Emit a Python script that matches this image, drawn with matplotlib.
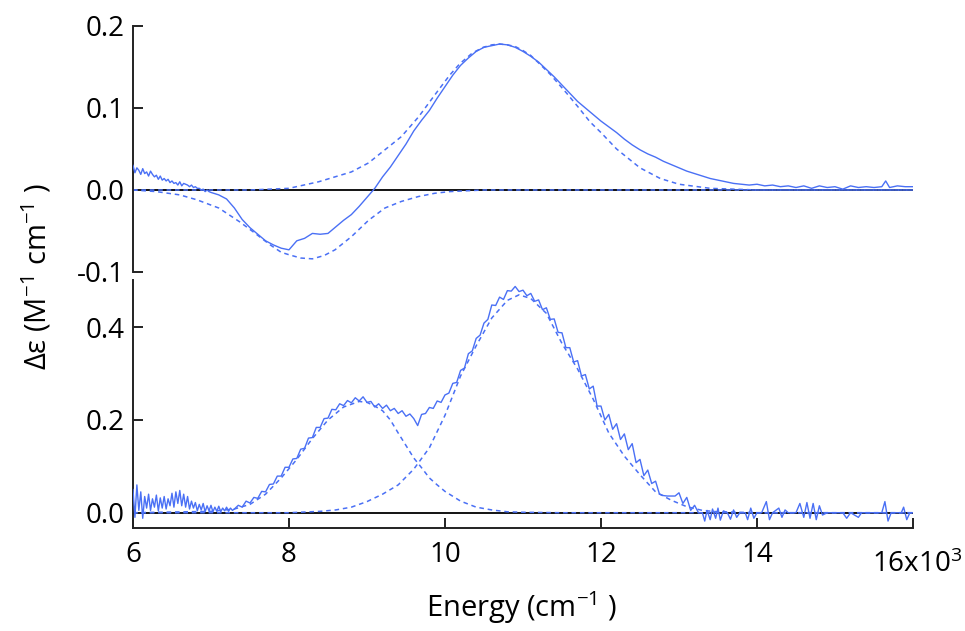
import numpy as np
import matplotlib.pyplot as plt

plt.rcParams['font.family'] = ['Open Sans', 'DejaVu Sans']
plt.rcParams['mathtext.fontset'] = 'custom'
plt.rcParams['mathtext.rm'] = 'Open Sans'
plt.rcParams['mathtext.default'] = 'regular'
plt.rcParams['axes.unicode_minus'] = False

# ---- datos (energia en 10^3 cm-1) ----
# panel superior: CD medido
top_noise = [0.030, 0.021, 0.027, 0.024, 0.019, 0.026, 0.020, 0.022, 0.017, 0.023,
             0.019, 0.016, 0.018, 0.013, 0.017, 0.012, 0.014, 0.011, 0.013, 0.009,
             0.011, 0.008, 0.009, 0.006, 0.010, 0.005, 0.008, 0.007, 0.006, 0.004,
             0.006, 0.003, 0.004, 0.002, 0.002, 0.000, 0.001, -0.002, 0.000, -0.002,
             -0.003]
top_main = [-0.006, -0.011, -0.022, -0.036, -0.046, -0.054, -0.062, -0.067, -0.071,
            -0.073, -0.062, -0.059, -0.053, -0.054, -0.053, -0.045, -0.037, -0.030, -0.020,
            -0.009, 0.002, 0.016, 0.028, 0.042, 0.056, 0.072, 0.085, 0.097, 0.112,
            0.126, 0.140, 0.152, 0.161, 0.169, 0.174, 0.176, 0.178, 0.177, 0.174,
            0.169, 0.163, 0.156, 0.147, 0.138, 0.128, 0.118, 0.108, 0.100, 0.092,
            0.084, 0.077, 0.070, 0.062, 0.055, 0.049]
top_tail_x = [12.6, 12.7, 12.8, 12.9, 13.0, 13.1, 13.2, 13.3, 13.4, 13.5, 13.6, 13.7,
              13.8, 13.9, 14.0, 14.1, 14.2, 14.3, 14.4, 14.5, 14.6, 14.7, 14.8, 14.9,
              15.0, 15.1, 15.2, 15.3, 15.4, 15.5, 15.6, 15.65, 15.7, 15.8, 15.9, 16.0]
top_tail_y = [0.044, 0.040, 0.035, 0.031, 0.027, 0.023, 0.020, 0.017, 0.014, 0.012,
              0.010, 0.008, 0.007, 0.006, 0.007, 0.005, 0.006, 0.004, 0.005, 0.003,
              0.005, 0.002, 0.005, 0.003, 0.004, 0.001, 0.005, 0.003, 0.004, 0.003,
              0.004, 0.011, 0.003, 0.005, 0.004, 0.004]

# panel superior: gaussianas ajustadas
top_fit_pos_x = [6.0, 7.5, 8.0, 8.38, 8.8, 9.02, 9.23, 9.44, 9.66, 9.87, 10.06, 10.19,
                 10.35, 10.49, 10.6, 10.7, 10.8, 10.9, 11.0, 11.1, 11.2, 11.35, 11.56,
                 11.7, 11.86, 12.0, 12.2, 12.5, 12.76, 13.0, 13.4, 14.0, 16.0]
top_fit_pos_y = [0.0, 0.0, 0.002, 0.010, 0.022, 0.033, 0.049, 0.065, 0.089, 0.116,
                 0.140, 0.154, 0.167, 0.174, 0.177, 0.178, 0.177, 0.175, 0.170, 0.164,
                 0.155, 0.141, 0.118, 0.102, 0.083, 0.070, 0.050, 0.027, 0.014, 0.007,
                 0.002, 0.0, 0.0]
top_fit_neg_x = [6.0, 6.3, 6.6, 6.82, 7.1, 7.37, 7.54, 7.76, 7.9, 8.0, 8.15, 8.3,
                 8.45, 8.59, 8.8, 9.02, 9.23, 9.44, 9.66, 9.87, 10.06, 10.5, 16.0]
top_fit_neg_y = [0.0, -0.002, -0.006, -0.012, -0.022, -0.039, -0.051, -0.067, -0.076,
                 -0.079, -0.083, -0.084, -0.080, -0.073, -0.057, -0.037, -0.022, -0.014,
                 -0.008, -0.004, -0.002, 0.0, 0.0]

# panel inferior: absorcion medida
bot_noise = [0.05, -0.01, 0.06, 0.005, 0.045, -0.012, 0.035, 0.01, 0.04, 0.005,
             0.03, 0.012, 0.038, 0.004, 0.032, 0.01, 0.035, 0.008, 0.03, 0.015,
             0.042, 0.012, 0.045, 0.02, 0.048, 0.015, 0.04, 0.012, 0.035, 0.008,
             0.025, 0.01, 0.022, 0.004, 0.018, 0.006, 0.02, 0.002, 0.015, 0.004,
             0.016, 0.002, 0.012, 0.003, 0.014, 0.002, 0.01, 0.004, 0.012, 0.003,
             0.01, 0.005, 0.008]
bot_main = [0.016, 0.012, 0.025, 0.021, 0.033, 0.031, 0.046, 0.045, 0.061, 0.062,
            0.079, 0.079, 0.098, 0.098, 0.116, 0.117, 0.137, 0.139, 0.161, 0.162,
            0.184, 0.184, 0.203, 0.204, 0.223, 0.222, 0.235, 0.231, 0.242, 0.237,
            0.248, 0.241, 0.250, 0.238, 0.240, 0.228, 0.235, 0.225, 0.232, 0.220,
            0.225, 0.214, 0.220, 0.208, 0.213, 0.203, 0.188, 0.212, 0.214, 0.227,
            0.225, 0.241, 0.238, 0.254, 0.258, 0.279, 0.281, 0.307, 0.312, 0.343,
            0.349, 0.376, 0.383, 0.409, 0.417, 0.448, 0.447, 0.465, 0.460, 0.479,
            0.478, 0.488, 0.477, 0.480, 0.468, 0.473, 0.456, 0.459, 0.438, 0.442,
            0.417, 0.418, 0.389, 0.388, 0.356, 0.356, 0.325, 0.328, 0.295, 0.298,
            0.267, 0.273, 0.230, 0.230, 0.200, 0.212, 0.180, 0.192, 0.158, 0.170,
            0.136, 0.149, 0.108, 0.115, 0.080, 0.092, 0.063, 0.068, 0.040, 0.037,
            0.036, 0.036, 0.036, 0.043, 0.020, 0.033, 0.005, 0.016, 0.000, 0.000]
bot_tail_x = [13.33, 13.36, 13.40, 13.43, 13.47, 13.50, 13.53, 13.57, 13.62, 13.66,
              13.70, 13.74, 13.78, 13.85, 13.88, 13.92, 13.96, 14.0, 14.06, 14.12,
              14.16, 14.2, 14.28, 14.32, 14.36, 14.4, 14.5, 14.55, 14.6, 14.64, 14.68,
              14.72, 14.76, 14.8, 14.84, 14.9, 15.1, 15.15, 15.2, 15.3, 15.34, 15.6,
              15.64, 15.68, 15.72, 15.85, 15.88, 15.92, 15.96, 16.0]
bot_tail_y = [-0.018, 0.005, -0.015, 0.008, -0.012, 0.01, -0.016, 0.004, 0.0, -0.014,
              0.006, -0.01, 0.0, 0.0, -0.015, 0.01, -0.012, 0.0, 0.0, 0.024,
              -0.015, 0.0, 0.01, -0.01, 0.006, 0.0, 0.0, 0.02, -0.01, 0.022, -0.012,
              0.02, -0.015, 0.015, -0.005, 0.0, 0.0, -0.012, 0.0, -0.01, 0.0, 0.0,
              0.024, -0.018, 0.0, 0.0, 0.012, -0.015, 0.0, 0.0]

# panel inferior: gaussianas ajustadas
bot_fit1_x = [6.0, 7.0, 7.3, 7.5, 7.7, 7.9, 8.1, 8.3, 8.5, 8.7, 8.9, 9.0, 9.1, 9.2,
              9.3, 9.4, 9.5, 9.6, 9.7, 9.8, 9.9, 10.0, 10.2, 10.4, 10.6, 10.8, 11.0,
              11.5, 16.0]
bot_fit1_y = [0.0, 0.003, 0.008, 0.018, 0.040, 0.075, 0.115, 0.160, 0.200, 0.228,
              0.240, 0.238, 0.230, 0.220, 0.200, 0.172, 0.145, 0.118, 0.097, 0.075,
              0.060, 0.046, 0.025, 0.012, 0.006, 0.002, 0.001, 0.0, 0.0]
bot_fit2_x = [6.0, 8.0, 8.4, 8.6, 8.8, 9.0, 9.2, 9.4, 9.6, 9.8, 10.0, 10.2, 10.4,
              10.6, 10.8, 10.95, 11.1, 11.3, 11.5, 11.7, 11.9, 12.1, 12.3, 12.5,
              12.7, 12.9, 13.1, 13.3, 13.5, 14.0, 16.0]
bot_fit2_y = [0.0, 0.0, 0.003, 0.006, 0.012, 0.024, 0.040, 0.060, 0.094, 0.140,
              0.210, 0.295, 0.360, 0.420, 0.458, 0.470, 0.462, 0.430, 0.365, 0.310,
              0.245, 0.172, 0.122, 0.082, 0.045, 0.027, 0.013, 0.005, 0.002, 0.0, 0.0]

# ---- ejes x de las series medidas ----
top_x = np.concatenate([np.linspace(6.0, 7.0, len(top_noise)),
                        np.linspace(7.1, 12.5, len(top_main)), top_tail_x])
top_y = np.concatenate([top_noise, top_main, top_tail_y])
bot_x = np.concatenate([np.linspace(6.0, 7.3, len(bot_noise)),
                        np.linspace(7.35, 13.3, len(bot_main)), bot_tail_x])
bot_y = np.concatenate([bot_noise, bot_main, bot_tail_y])

blue = '#4a70f5'
dash = (0, (3, 2.5))

fig = plt.figure(figsize=(9.65, 6.31), dpi=100)
ax1 = fig.add_axes([0.1378, 0.569, 0.8083, 0.3898])
ax2 = fig.add_axes([0.1378, 0.1632, 0.8083, 0.3931])

for ax in [ax1, ax2]:
    ax.axhline(0, color='black', lw=1.3, zorder=1)
    ax.set_xlim(6, 16)
    for s in ['top', 'right']:
        ax.spines[s].set_visible(False)
    for s in ['left', 'bottom']:
        ax.spines[s].set_linewidth(1.4)
        ax.spines[s].set_color('#222222')
    ax.tick_params(direction='in', length=7, width=1.4, color='#222222',
                   labelsize=20)
    ax.tick_params(axis='y', pad=6)

ax1.plot(top_x, top_y, color=blue, lw=1.0, zorder=3)
ax1.plot(top_fit_pos_x, top_fit_pos_y, color=blue, lw=1.1, ls=dash, zorder=2)
ax1.plot(top_fit_neg_x, top_fit_neg_y, color=blue, lw=1.1, ls=dash, zorder=2)
ax1.set_ylim(-0.1, 0.2)
ax1.set_yticks([-0.1, 0.0, 0.1, 0.2], ['-0.1', '0.0', '0.1', '0.2'])
ax1.spines['bottom'].set_visible(False)
ax1.tick_params(axis='x', bottom=False, labelbottom=False)

ax2.plot(bot_x, bot_y, color=blue, lw=1.0, zorder=3)
ax2.plot(bot_fit1_x, bot_fit1_y, color=blue, lw=1.1, ls=dash, zorder=2)
ax2.plot(bot_fit2_x, bot_fit2_y, color=blue, lw=1.1, ls=dash, zorder=2)
ax2.set_ylim(-0.033, 0.502)
ax2.set_yticks([0.0, 0.2, 0.4], ['0.0', '0.2', '0.4'])
ax2.set_xticks([6, 8, 10, 12, 14, 16], ['6', '8', '10', '12', '14', ''])
ax2.tick_params(axis='x', pad=9)

fig.text(0.997, 0.0935, '16x10$^3$', ha='right', va='baseline', fontsize=20)
fig.text(0.54, 0.022, 'Energy (cm$^{-1}$ )', ha='center', va='baseline', fontsize=21)
fig.text(0.038, 0.5626, 'Δε (M$^{-1}$ cm$^{-1}$ )', rotation=90, ha='center',
         va='center', fontsize=21)

plt.savefig('out.png', dpi=100)
